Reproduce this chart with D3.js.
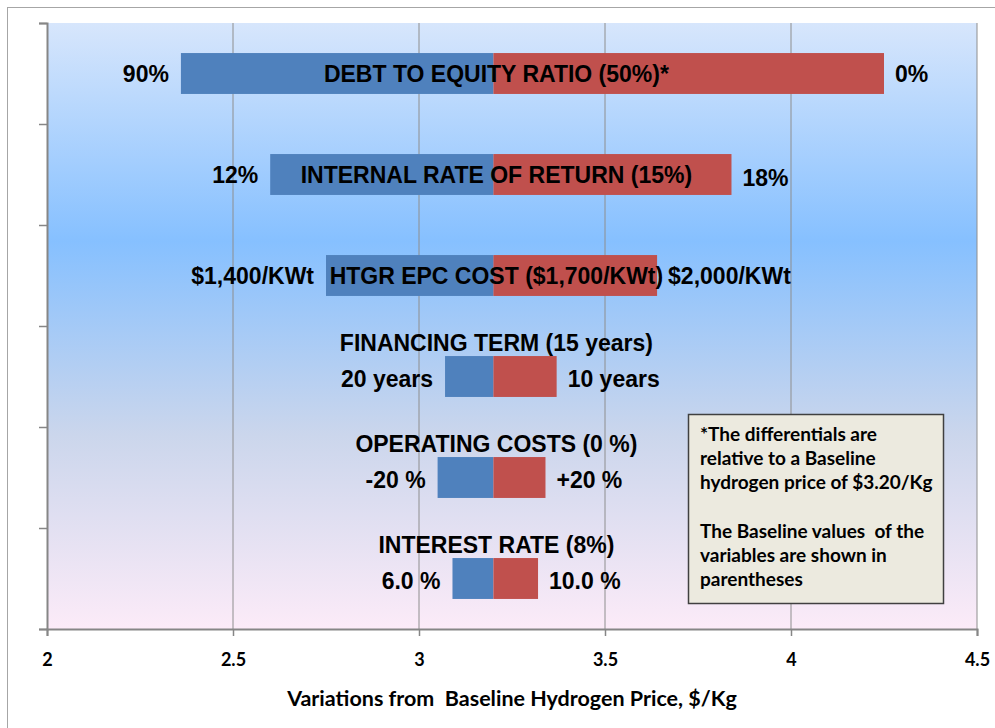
<!DOCTYPE html>
<html>
<head>
<meta charset="utf-8">
<script src="https://cdn.jsdelivr.net/npm/d3@7"></script>
<style>
  body { margin: 0; background: #fff; }
  svg { display: block; }
</style>
</head>
<body>
<div id="chart"></div>
<script>
// tornado data ($/Kg)
const categories = ["DEBT TO EQUITY RATIO (50%)*", "INTERNAL RATE OF RETURN (15%)", "HTGR EPC COST ($1,700/KWt)",
  "FINANCING TERM (15 years)", "OPERATING COSTS (0 %)", "INTEREST RATE (8%)"]
const lowValues = [2.36, 2.60, 2.75, 3.07, 3.05, 3.09]
const highValues = [4.25, 3.84, 3.64, 3.37, 3.34, 3.32]
const lowLabels = ["90%", "12%", "$1,400/KWt", "20 years", "-20 %", "6.0 %"]
const highLabels = ["0%", "18%", "$2,000/KWt", "10 years", "+20 %", "10.0 %"]
const baseline = 3.2
const xTicks = [2, 2.5, 3, 3.5, 4, 4.5]
const noteLines = ["*The differentials are", "relative to a Baseline", "hydrogen price of $3.20/Kg", "",
  "The Baseline values  of the", "variables are shown in", "parentheses"]
const xTitle = "Variations from  Baseline Hydrogen Price, $/Kg"

const W = 995, H = 728
const margin = {top: 23, right: 18, bottom: 99, left: 47}
const width = W - margin.left - margin.right,
    height = H - margin.top - margin.bottom

const arial = "'Liberation Sans', Arial, sans-serif"
const calibri = "Lato, 'Open Sans', sans-serif"

let svg = d3.select("#chart").append("svg")
    .attr("width", W)
    .attr("height", H)

// chart area border
svg.append("rect")
    .attr("x", 7.5).attr("y", 7.5)
    .attr("width", W + 20).attr("height", H + 20)
    .attr("fill", "#fff")
    .attr("stroke", "#a6a6a6")

let defs = svg.append("defs")
let grad = defs.append("linearGradient")
    .attr("id", "bg").attr("x1", 0).attr("y1", 0).attr("x2", 0).attr("y2", 1)
grad.append("stop").attr("offset", "0").attr("stop-color", "#d7e6fc")
grad.append("stop").attr("offset", "0.36").attr("stop-color", "#86c0ff")
grad.append("stop").attr("offset", "0.68").attr("stop-color", "#cbd6ec")
grad.append("stop").attr("offset", "1").attr("stop-color", "#fcebf8")

let g = svg.append("g")
    .attr("transform", "translate(" + margin.left + "," + margin.top + ")")

let x = d3.scaleLinear().domain([2, 4.5]).range([0, width])
let yb = d3.scaleBand().domain(categories).range([0, height])
let yl = d3.scaleLinear().domain([0, categories.length]).range([0, height])
let barH = yb.bandwidth() * 0.405

g.append("rect")
    .attr("width", width).attr("height", height)
    .attr("fill", "url(#bg)")

// vertical gridlines
g.selectAll(".grid")
    .data(xTicks.slice(1))
    .enter().append("line")
    .attr("x1", d => x(d)).attr("x2", d => x(d))
    .attr("y1", 0).attr("y2", height)
    .attr("stroke", "#8e8e8e")
    .attr("stroke-width", 1)

let rows = g.selectAll(".row")
    .data(categories)
    .enter().append("g")

const mid = d => yb(d) + yb.bandwidth() / 2

rows.append("rect")
    .attr("x", (d, i) => x(lowValues[i]))
    .attr("y", d => mid(d) - barH / 2)
    .attr("width", (d, i) => x(baseline) - x(lowValues[i]))
    .attr("height", barH)
    .attr("fill", "#4f81bd")

rows.append("rect")
    .attr("x", x(baseline))
    .attr("y", d => mid(d) - barH / 2)
    .attr("width", (d, i) => x(highValues[i]) - x(baseline))
    .attr("height", barH)
    .attr("fill", "#c0504d")

const txt = sel => sel
    .attr("font-family", arial)
    .attr("font-weight", "bold")
    .attr("font-size", "23px")
    .attr("fill", "#000")

// category names: inside the long bars, above the short ones
rows.append("text")
    .text(d => d)
    .attr("x", x(baseline) + 3)
    .attr("y", (d, i) => i < 3 ? mid(d) + 8 : mid(d) - 26)
    .attr("text-anchor", "middle")
    .call(txt)

rows.append("text")
    .text((d, i) => lowLabels[i])
    .attr("x", (d, i) => x(lowValues[i]) - 12)
    .attr("y", (d, i) => mid(d) + (i < 3 ? 8 : 10))
    .attr("text-anchor", "end")
    .call(txt)

rows.append("text")
    .text((d, i) => highLabels[i])
    .attr("x", (d, i) => x(highValues[i]) + 11)
    .attr("y", (d, i) => mid(d) + (i < 3 ? 8 : 10) + (i === 1 ? 3 : 0))
    .call(txt)

// axes
let yAxis = g.append("g")
    .call(d3.axisLeft(yl).tickValues(d3.range(categories.length + 1)).tickSize(8).tickFormat(""))
yAxis.select(".domain").attr("stroke", "#868686").attr("stroke-width", 2)
yAxis.selectAll(".tick line").attr("stroke", "#868686").attr("stroke-width", 1.5)

let xAxis = g.append("g")
    .attr("transform", "translate(0," + height + ")")
    .call(d3.axisBottom(x).tickValues(xTicks).tickSize(7).tickPadding(17).tickFormat(d => String(d)))
xAxis.select(".domain").attr("stroke", "#868686").attr("stroke-width", 2)
xAxis.selectAll(".tick line").attr("stroke", "#868686").attr("stroke-width", 1.5)
xAxis.selectAll(".tick text")
    .attr("font-family", calibri)
    .attr("font-weight", "bold")
    .attr("font-size", "18px")
    .attr("fill", "#000")

g.append("text")
    .text(xTitle)
    .attr("x", width / 2)
    .attr("y", height + 77)
    .attr("text-anchor", "middle")
    .attr("font-family", calibri)
    .attr("font-weight", "bold")
    .attr("font-size", "21.5px")
    .attr("fill", "#000")
    .style("white-space", "pre")

// note box
let note = svg.append("g").attr("transform", "translate(688,414)")
note.append("rect")
    .attr("x", 0.5).attr("y", 0.5)
    .attr("width", 255).attr("height", 189)
    .attr("fill", "#eceadf")
    .attr("stroke", "#404040")
    .attr("stroke-width", 1.5)
note.selectAll("text")
    .data(noteLines)
    .enter().append("text")
    .text(d => d)
    .attr("x", 12)
    .attr("y", (d, i) => 27 + i * 24.2)
    .attr("font-family", calibri)
    .attr("font-weight", "bold")
    .attr("font-size", "19px")
    .attr("fill", "#000")
    .style("white-space", "pre")
</script>
</body>
</html>
